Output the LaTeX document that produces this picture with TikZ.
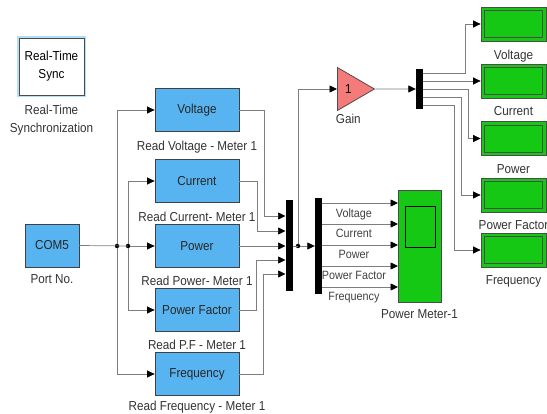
\documentclass[tikz,border=0pt]{standalone}
\usepackage{fontspec}
\setmainfont{Liberation Sans}[FakeStretch=0.9]
\usepackage{xcolor}
\usetikzlibrary{positioning,calc,shapes.geometric,arrows.meta}

\definecolor{blkblue}{RGB}{88,180,240}
\definecolor{blkgreen}{RGB}{20,200,20}
\definecolor{gainred}{RGB}{245,122,122}
\definecolor{wiregray}{RGB}{125,125,125}
\newcommand{\blkfont}{\fontsize{13}{15}\selectfont}
\newcommand{\sigfont}{\fontsize{12}{14}\selectfont}

\tikzset{
  blk/.style={draw=black!75, fill=blkblue, line width=0.8pt, minimum width=84pt,
    minimum height=43pt, inner sep=0pt, font=\blkfont, text=black!85},
  lbl/.style={font=\blkfont, text=black!80, inner sep=1pt, align=center},
  muxbar/.style={fill=black, minimum width=7pt, inner sep=0pt},
  disp/.style={draw=black!70, fill=blkgreen, line width=0.8pt, minimum width=65pt,
    minimum height=34pt, inner sep=0pt},
  wire/.style={draw=wiregray, line width=0.7pt},
  arr/.style={wire, -{Triangle[length=7.5pt,width=7pt,color=black]}},
  jdot/.style={circle, fill=black, inner sep=0pt, minimum size=4.5pt},
  siglbl/.style={font=\sigfont, text=black!75, inner sep=1pt}
}

\begin{document}
\begin{tikzpicture}[x=1pt,y=-1pt]
\useasboundingbox (0,0) rectangle (547,414);

% sync block and serial port
\node[draw=black!70, line width=0.8pt, fill=white, preaction={draw=blkblue!45, line width=3.5pt},
  minimum width=65pt, minimum height=57pt, align=center, font=\fontsize{13}{18}\selectfont] (rts) at (51.5,66.5) {Real-Time\\Sync};
\node[lbl, below=8pt of rts, font=\fontsize{13}{18}\selectfont] (rtslbl) {Real-Time\\Synchronization};
\node[blk, minimum width=54pt] (com) at (52,245.5) {COM5};
\node[lbl, below=6pt of com] (comlbl) {Port No.};

% read blocks
\node[blk] (volt) at (197,110) {Voltage};
\node[blk] (curr) at (197,181) {Current};
\node[blk] (pow) at (197,246) {Power};
\node[blk] (pf) at (197,310) {Power Factor};
\node[blk] (freq) at (197,374) {Frequency};
\node[lbl, below=8pt of volt] (voltlbl) {Read Voltage - Meter 1};
\node[lbl, below=8pt of curr] (currlbl) {Read Current- Meter 1};
\node[lbl, below=7pt of pow] (powlbl) {Read Power- Meter 1};
\node[lbl, below=7pt of pf] (pflbl) {Read P.F - Meter 1};
\node[lbl, below=4pt of freq] (freqlbl) {Read Frequency - Meter 1};

% junctions
\node[jdot] (j1) at (117,246) {};
\node[jdot] (j2) at (128,246) {};
\draw[wire] (com.east) -- (j2.center);
\draw[arr] (j2) -- (pow.west);
\draw[arr] (j1) |- (volt.west);
\draw[arr] (j1) |- (freq.west);
\draw[arr] (j2) |- (curr.west);
\draw[arr] (j2) |- (pf.west);

% muxes
\node[muxbar, minimum height=91pt] (mux1) at (289,246) {};
\node[muxbar, minimum height=96pt] (mux2) at (318.5,246) {};
\node[muxbar, minimum height=40pt] (mux3) at (419.5,89) {};
\foreach \i/\y in {1/216,2/231,3/246,4/260,5/274}
  \coordinate (m1in\i) at (285.5,\y);
\foreach \i/\y in {1/73,2/81,3/89,4/97,5/105}
  \coordinate (m3o\i) at (423,\y);

\draw[arr] (volt.east) -- ++(25,0) |- (m1in1);
\draw[arr] (curr.east) -- ++(18,0) |- (m1in2);
\draw[arr] (pow.east) -- (m1in3);
\draw[arr] (pf.east) -- ++(17,0) |- (m1in4);
\draw[arr] (freq.east) -- ++(24,0) |- (m1in5);

% gain
\node[isosceles triangle, isosceles triangle stretches, draw=black!70, fill=gainred, line width=0.8pt,
  minimum width=43pt, minimum height=37pt, inner sep=0pt, anchor=west, font=\blkfont] (gain) at (337,89) {1\hspace{8pt}};
\node[lbl, below=8pt of gain] (gainlbl) {Gain};

\node[jdot] (j3) at (298,246) {};
\draw[wire] (mux1.east) -- (j3.center);
\draw[arr] (j3) -- (mux2.west);
\draw[arr] (j3) |- (gain.west);
\draw[arr] (gain.east) -- (mux3.west);

% power meter scope
\node[draw=black!70, fill=blkgreen, line width=0.8pt, minimum width=43pt, minimum height=112pt, inner sep=0pt] (pm) at (419.5,246) {};
\node[draw=black, fill=blkgreen, line width=0.8pt, minimum width=30pt, minimum height=41pt, inner sep=0pt] (pmscr) at (420,226.5) {};
\node[lbl, below=6pt of pm] (pmlbl) {Power Meter-1};
\foreach \i/\y/\t in {1/203/Voltage,2/224/Current,3/245/Power,4/266/Power Factor,5/287/Frequency}{
  \coordinate (m2o\i) at (322,\y);
  \coordinate (pmi\i) at (398,\y);
  \draw[arr] (m2o\i) -- node[siglbl, pos=0.42, below=4pt] (sl\i) {\t} (pmi\i);
}

% displays
\node[disp] (dv) at (513.5,24) {};
\node[disp] (dc) at (513.5,81) {};
\node[disp] (dp) at (513.5,138.5) {};
\node[disp] (dpf) at (513.5,195) {};
\node[disp] (dfr) at (513.5,250) {};
\foreach \d in {dv,dc,dp,dpf,dfr}
  \draw[draw=black!70, line width=0.6pt] ([shift={(4,4)}]\d.north west) rectangle ([shift={(-4,-4)}]\d.south east);
\node[lbl, below=7pt of dv] (dvlbl) {Voltage};
\node[lbl, below=7pt of dc] (dclbl) {Current};
\node[lbl, below=7pt of dp] (dplbl) {Power};
\node[lbl, below=7pt of dpf] (dpflbl) {Power Factor};
\node[lbl, below=7pt of dfr] (dfrlbl) {Frequency};

\draw[arr] (m3o1) -- ++(42,0) |- (dv.west);
\draw[arr] (m3o2) -- (dc.west);
\draw[arr] (m3o3) -- ++(45,0) |- (dp.west);
\draw[arr] (m3o4) -- ++(38,0) |- (dpf.west);
\draw[arr] (m3o5) -- ++(31,0) |- (dfr.west);

\end{tikzpicture}
\end{document}
